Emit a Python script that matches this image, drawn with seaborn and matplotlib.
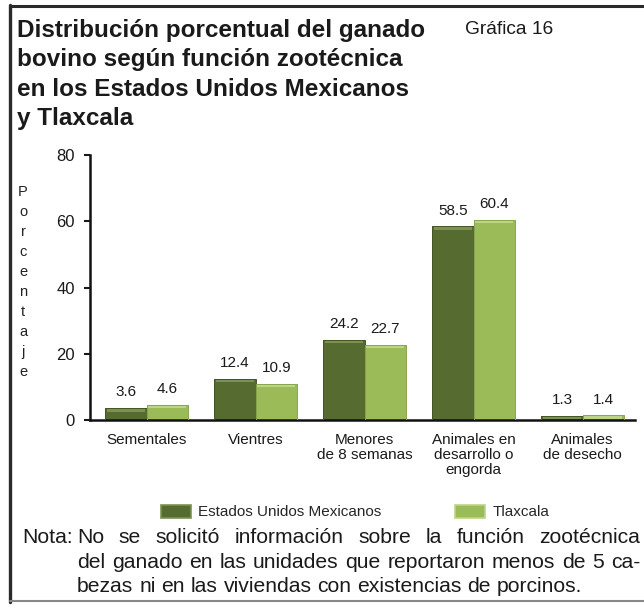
import matplotlib
matplotlib.use("Agg")
import matplotlib.pyplot as plt
import matplotlib.patches as mpatches
from matplotlib.lines import Line2D
import seaborn as sns
import pandas as pd

# Data
categorias = ["Sementales", "Vientres", "Menores\nde 8 semanas",
              "Animales en\ndesarrollo o\nengorda", "Animales\nde desecho"]
series = ["Estados Unidos Mexicanos", "Tlaxcala"]
nacional = [3.6, 12.4, 24.2, 58.5, 1.3]
tlaxcala = [4.6, 10.9, 22.7, 60.4, 1.4]
y_ticks = [0, 20, 40, 60, 80]

titulo = ["Distribución porcentual del ganado",
          "bovino según función zootécnica",
          "en los Estados Unidos Mexicanos",
          "y Tlaxcala"]
grafica = "Gráfica 16"
eje_y = "Porcentaje"
nota = [["Nota:", "No se solicitó información sobre la función zootécnica"],
        ["", "del ganado en las unidades que reportaron menos de 5 ca-"],
        ["", "bezas ni en las viviendas con existencias de porcinos."]]

colores = {"Estados Unidos Mexicanos": "#556b2f", "Tlaxcala": "#9bbb59"}
brillo = {"Estados Unidos Mexicanos": "#7c9152", "Tlaxcala": "#bcd488"}
borde = {"Estados Unidos Mexicanos": "#435625", "Tlaxcala": "#88a64c"}

df = pd.DataFrame({
    "categoria": categorias * 2,
    "serie": [series[0]] * 5 + [series[1]] * 5,
    "valor": nacional + tlaxcala,
})

sns.set_style("white")
plt.rcParams["font.family"] = ["Liberation Sans", "DejaVu Sans"]
TXT = "#1a1a1a"

W, H = 644, 609
fig = plt.figure(figsize=(W / 100, H / 100), dpi=100)
ax = fig.add_axes([90 / W, 1 - 420 / H, (635 - 90) / W, (420 - 155) / H])

sns.barplot(data=df, x="categoria", y="valor", hue="serie", palette=colores,
            width=0.76, gap=0, saturation=1, legend=False, ax=ax,
            edgecolor="none", linewidth=0)

# Beveled look: highlight strip on top of each bar, outline and value label
px_per_unit = (420 - 155) / 80
for cont, serie, vals in zip(ax.containers, series, [nacional, tlaxcala]):
    for patch, v in zip(cont.patches, vals):
        x0, w = patch.get_x(), patch.get_width()
        h_strip = min(3.5 / px_per_unit, v)
        ax.add_patch(mpatches.Rectangle((x0 + w * 0.04, v - h_strip), w * 0.92, h_strip,
                                        facecolor=brillo[serie], edgecolor="none",
                                        zorder=3))
        ax.add_patch(mpatches.Rectangle((x0, 0), w, v, facecolor="none",
                                        edgecolor=borde[serie], linewidth=0.7, zorder=4))
        ax.text(x0 + w / 2, v + 2.6, f"{v:.1f}", ha="center", va="bottom",
                fontsize=11, color=TXT)

ax.set_ylim(0, 80)
ax.set_xlim(-0.52, 4.48)
ax.set_yticks(y_ticks)
ax.set_xticks(range(5))
ax.set_xticklabels(categorias, fontsize=11, linespacing=1.1, color=TXT)
ax.tick_params(axis="y", labelsize=12, length=4, width=1.5, direction="out",
               left=True, pad=7, colors=TXT)
ax.tick_params(axis="x", length=0, pad=9)
ax.set_xlabel("")
ax.set_ylabel("")
for s in ["top", "right"]:
    ax.spines[s].set_visible(False)
for s in ["left", "bottom"]:
    ax.spines[s].set_linewidth(1.8)
    ax.spines[s].set_color("#111111")

# Vertical stacked axis label
for i, ch in enumerate(eje_y):
    fig.text(23 / W, 1 - (192 + i * 20) / H, ch, ha="center", va="center",
             fontsize=10.5, color="#222222")

# Title lines
for i, linea in enumerate(titulo):
    fig.text(17 / W, 1 - (36.5 + i * 29.5) / H, linea, ha="left", va="baseline",
             fontsize=17.5, fontweight="bold", color=TXT)
fig.text(465 / W, 1 - 34.5 / H, grafica, ha="left", va="baseline",
         fontsize=13.8, color=TXT)

# Legend
handles = [mpatches.Patch(facecolor=colores[s], edgecolor=brillo[s], linewidth=1.2) for s in series]
fig.legend(handles, series, loc="center", bbox_to_anchor=(355 / W, 1 - 512 / H),
           ncol=2, frameon=False, fontsize=11, handlelength=2.0, handleheight=0.95,
           handletextpad=0.45, columnspacing=4.8)

# Justified note
fig.canvas.draw()
renderer = fig.canvas.get_renderer()
fs_nota = 15.2
x_right = 640
baselines = [543, 568, 592]
for li, (prefijo, texto) in enumerate(nota):
    yb = 1 - baselines[li] / H
    if prefijo:
        fig.text(22 / W, yb, prefijo, ha="left", va="baseline", fontsize=fs_nota, color=TXT)
    x_start = 77
    palabras = texto.split(" ")
    objs = [fig.text(0, yb, p, ha="left", va="baseline", fontsize=fs_nota, color=TXT)
            for p in palabras]
    anchos = [o.get_window_extent(renderer).width for o in objs]
    if li < len(nota) - 1:
        hueco = (x_right - x_start - sum(anchos)) / (len(palabras) - 1)
    else:
        hueco = fs_nota * 100 / 72 * 0.278
    x = x_start
    for o, a in zip(objs, anchos):
        o.set_x(x / W)
        x += a + hueco

# Frame lines
fig.add_artist(Line2D([10 / W, 1], [1 - 6 / H, 1 - 6 / H], transform=fig.transFigure,
                      color="#2a2a2a", linewidth=2.2))
fig.add_artist(Line2D([10 / W, 10 / W], [1 - 5 / H, 1 - 602 / H], transform=fig.transFigure,
                      color="#2a2a2a", linewidth=2.4))
fig.add_artist(Line2D([10 / W, 1], [1 - 601 / H, 1 - 601 / H], transform=fig.transFigure,
                      color="#888888", linewidth=1.5))

fig.savefig("out.png", dpi=100)
